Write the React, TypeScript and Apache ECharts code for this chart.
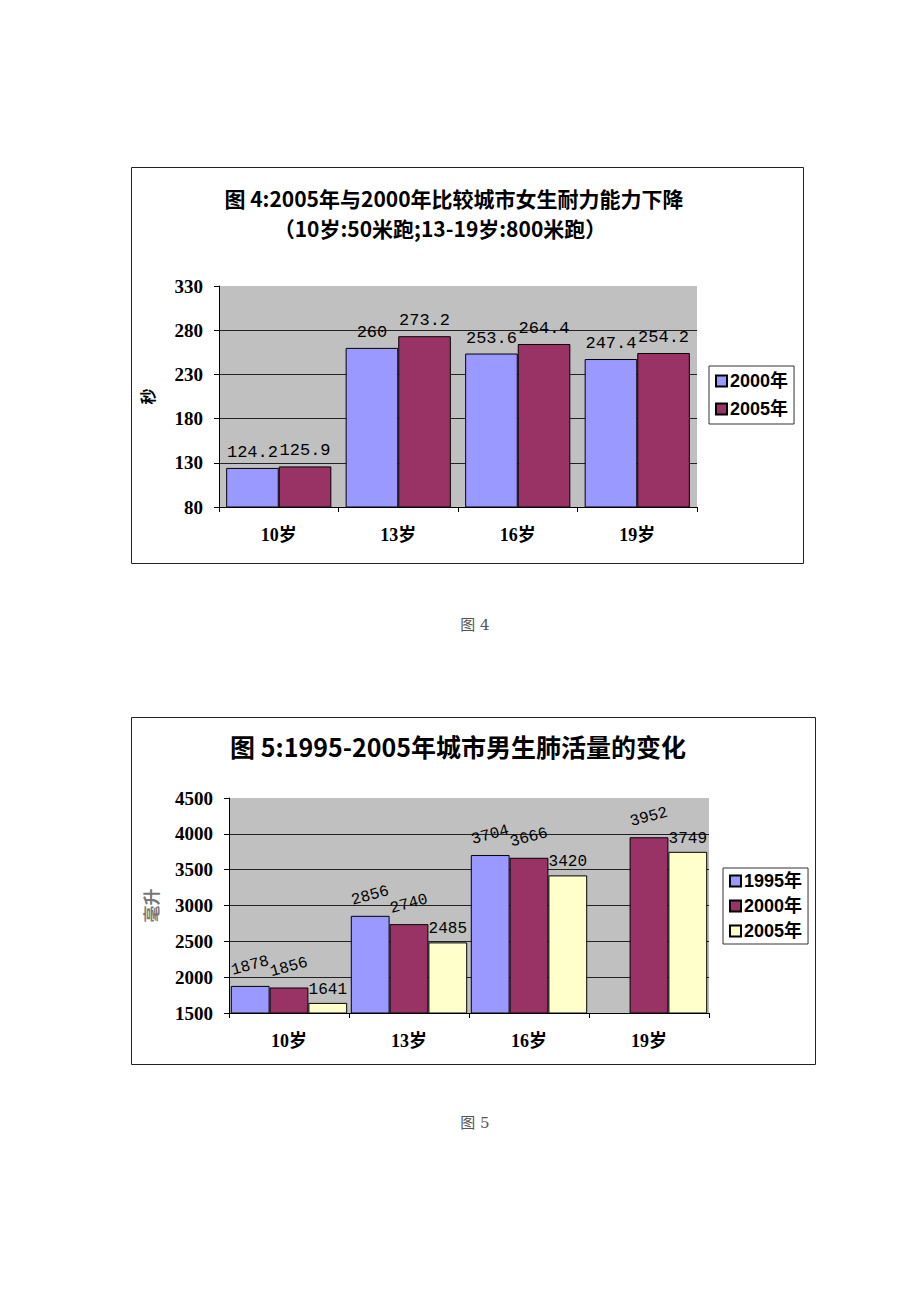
import React, { useEffect, useRef } from 'react';
import * as echarts from 'echarts';

// ---- data ----
const ages = ['10岁', '13岁', '16岁', '19岁'];
const fig4Names = ['2000年', '2005年'];
const fig4Y2000 = [124.2, 260, 253.6, 247.4];
const fig4Y2005 = [125.9, 273.2, 264.4, 254.2];
const fig5Names = ['1995年', '2000年', '2005年'];
const fig5Y1995 = [1878, 2856, 3704, null];
const fig5Y2000 = [1856, 2740, 3666, 3952];
const fig5Y2005 = [1641, 2485, 3420, 3749];
const fig4Axis = { min: 80, max: 330, interval: 50 };
const fig5Axis = { min: 1500, max: 4500, interval: 500 };

const fig4Title1 = '图 4:2005年与2000年比较城市女生耐力能力下降';
const fig4Title2 = '（10岁:50米跑;13-19岁:800米跑）';
const fig5Title = '图 5:1995-2005年城市男生肺活量的变化';
const fig4Caption = '图 4';
const fig5Caption = '图 5';

const BLUE = '#9999FF';
const PLUM = '#993366';
const CREAM = '#FFFFCC';
const CJK = '"Noto Sans CJK SC"';
const SERIF = '"Liberation Serif", "Noto Sans CJK SC"';
const MONO = '"Liberation Mono", "Noto Sans CJK SC"';
const SANS = '"Liberation Sans", "Noto Sans CJK SC"';

const yAxisCommon = {
  type: 'value',
  nameLocation: 'middle',
  nameRotate: 90,
  axisLine: { show: true, lineStyle: { color: '#000', width: 1 } },
  axisTick: { show: true, length: 5, lineStyle: { color: '#000' } },
  axisLabel: {
    color: '#000', fontFamily: SERIF, fontWeight: 'bold', fontSize: 19, margin: 16,
    formatter: (v: number) => String(v),
  },
  splitLine: { show: true, showMaxLine: false, lineStyle: { color: '#222', width: 1 } },
};
const xAxisCommon = {
  type: 'category',
  data: ages,
  axisLine: { show: true, lineStyle: { color: '#000', width: 1 } },
  axisTick: { show: true, length: 5, lineStyle: { color: '#000' } },
  axisLabel: { color: '#000', fontFamily: SERIF, fontWeight: 'bold', fontSize: 18, margin: 19 },
};
const barBorder = { borderColor: '#000', borderWidth: 1 };
const legendText = { fontFamily: SANS, fontWeight: 'bold', fontSize: 18, lineHeight: 18, color: '#000', padding: [0, 0, 0, -2] };

function txt(text: string, x: number, y: number, font: string, fill = '#000') {
  return {
    type: 'text', x, y, silent: true,
    style: { text, font, fill, textAlign: 'center', textVerticalAlign: 'middle', align: 'center', verticalAlign: 'middle' },
  };
}
function box(x: number, y: number, w: number, h: number) {
  return { type: 'rect', silent: true, shape: { x, y, width: w, height: h }, style: { fill: 'transparent', stroke: '#222', lineWidth: 1 } };
}

const optionFig4: any = {
  animation: false,
  backgroundColor: '#fff',
  grid: { left: 219, top: 286, width: 478, height: 221, show: true, backgroundColor: '#C0C0C0', borderWidth: 0 },
  xAxis: { ...xAxisCommon },
  yAxis: {
    ...yAxisCommon, ...fig4Axis,
    name: '秒', nameGap: 64,
    nameTextStyle: { fontFamily: CJK, fontWeight: 'bold', fontSize: 16, color: '#000' },
  },
  legend: {
    data: fig4Names,
    orient: 'vertical',
    left: 709, top: 366,
    itemWidth: 11, itemHeight: 11, itemGap: 10,
    padding: [6, 6, 6, 6],
    borderColor: '#333', borderWidth: 1, backgroundColor: '#fff',
    icon: 'rect',
    textStyle: legendText,
  },
  series: [
    {
      name: fig4Names[0], type: 'bar', data: fig4Y2000,
      barGap: '0%', barCategoryGap: '12%',
      itemStyle: { color: BLUE, ...barBorder },
      label: { show: true, position: 'top', distance: 7, fontFamily: MONO, fontSize: 17, color: '#000' },
    },
    {
      name: fig4Names[1], type: 'bar', data: fig4Y2005,
      barGap: '0%', barCategoryGap: '12%',
      itemStyle: { color: PLUM, ...barBorder },
      label: { show: true, position: 'top', distance: 7, fontFamily: MONO, fontSize: 17, color: '#000' },
    },
  ],
  graphic: [
    box(131.5, 167.5, 672, 396),
    txt(fig4Title1, 454, 198, 'bold 21px "Noto Sans CJK SC"'),
    txt(fig4Title2, 440, 228, 'bold 21px "Noto Sans CJK SC"'),
    txt(fig4Caption, 475, 625, '15px "DejaVu Serif", "Noto Sans CJK SC"', '#555'),
  ],
};

const OFF = 651;
const rotLabel = { show: true, position: 'top', distance: 20, rotate: 15, align: 'center', verticalAlign: 'middle', fontFamily: MONO, fontSize: 16, color: '#000' };
const optionFig5: any = {
  animation: false,
  backgroundColor: '#fff',
  grid: { left: 229, top: 798 - OFF, width: 480, height: 215, show: true, backgroundColor: '#C0C0C0', borderWidth: 0 },
  xAxis: { ...xAxisCommon },
  yAxis: {
    ...yAxisCommon, ...fig5Axis,
    name: '毫升', nameGap: 70,
    nameTextStyle: { fontFamily: CJK, fontWeight: 'bold', fontSize: 17, color: '#777' },
  },
  legend: {
    data: fig5Names,
    orient: 'vertical',
    left: 723, top: 868 - OFF,
    itemWidth: 11, itemHeight: 11, itemGap: 7,
    padding: [4, 6, 4, 6],
    borderColor: '#333', borderWidth: 1, backgroundColor: '#fff',
    icon: 'rect',
    textStyle: legendText,
  },
  series: [
    {
      name: fig5Names[0], type: 'bar', data: fig5Y1995,
      barGap: '0%', barCategoryGap: '3%',
      itemStyle: { color: BLUE, ...barBorder },
      label: rotLabel,
    },
    {
      name: fig5Names[1], type: 'bar', data: fig5Y2000,
      barGap: '0%', barCategoryGap: '3%',
      itemStyle: { color: PLUM, ...barBorder },
      label: rotLabel,
    },
    {
      name: fig5Names[2], type: 'bar', data: fig5Y2005,
      barGap: '0%', barCategoryGap: '3%',
      itemStyle: { color: CREAM, ...barBorder },
      label: { show: true, position: 'top', distance: 5, fontFamily: MONO, fontSize: 16, color: '#000' },
    },
  ],
  graphic: [
    box(131.5, 717.5 - OFF, 684, 347),
    txt(fig5Title, 458, 746 - OFF, 'bold 25px "Noto Sans CJK SC"'),
    txt(fig5Caption, 475, 1123 - OFF, '15px "DejaVu Serif", "Noto Sans CJK SC"', '#555'),
  ],
};

function Chart({ option, top, height }: { option: any; top: number; height: number }) {
  const ref = useRef<HTMLDivElement>(null);
  useEffect(() => {
    if (!ref.current) return;
    const chart = echarts.init(ref.current, null, { renderer: 'svg' });
    chart.setOption(option);
    return () => chart.dispose();
  }, [option]);
  return <div ref={ref} style={{ position: 'absolute', left: 0, top, width: 920, height, background: '#fff' }} />;
}

function App() {
  return (
    <div style={{ position: 'absolute', left: 0, top: 0, width: 920, height: 1302, background: '#fff' }}>
      <Chart option={optionFig4} top={0} height={OFF} />
      <Chart option={optionFig5} top={OFF} height={1302 - OFF} />
    </div>
  );
}

export default App;
